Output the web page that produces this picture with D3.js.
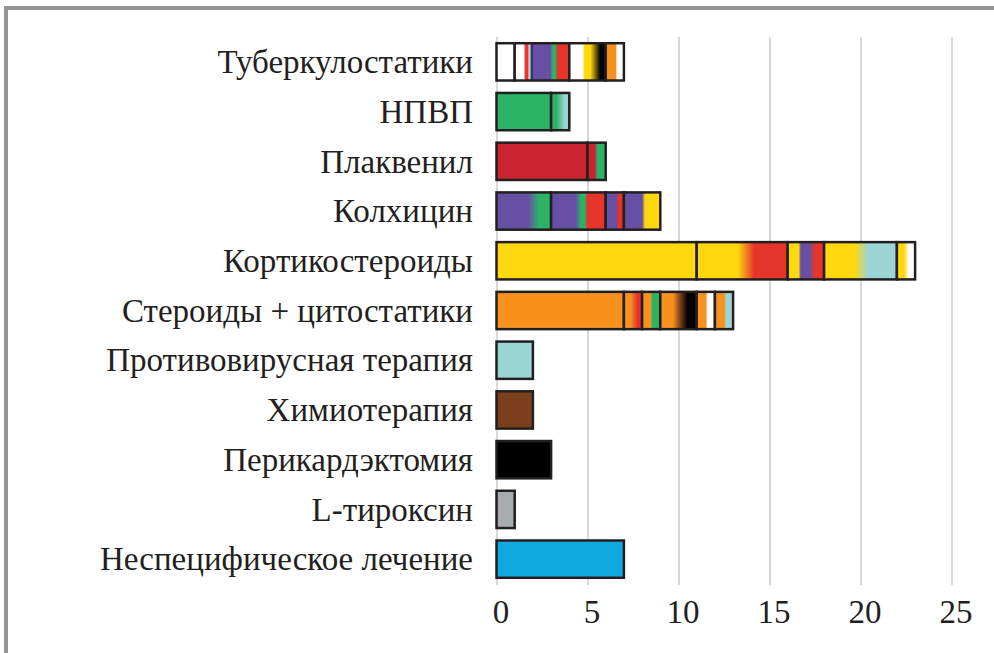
<!DOCTYPE html>
<html>
<head>
<meta charset="utf-8">
<script src="https://cdn.jsdelivr.net/npm/d3@7"></script>
<style>
  body { margin: 0; background: #fff; }
  svg { display: block; }
</style>
</head>
<body>
<div id="chart"></div>
<script>
/* data */
var categories = ["Туберкулостатики", "НПВП", "Плаквенил", "Колхицин", "Кортикостероиды",
	"Стероиды + цитостатики", "Противовирусная терапия", "Химиотерапия", "Перикардэктомия",
	"L-тироксин", "Неспецифическое лечение"];

/* length of every outlined piece of a bar, left to right */
var segmentValues = [
	[1, 3, 2, 1],
	[3, 1],
	[5, 1],
	[3, 3, 1, 2],
	[11, 5, 2, 4, 1],
	[7, 1, 1, 2, 1, 1],
	[2],
	[2],
	[3],
	[1],
	[7]
];

/* what each piece is filled with: [stop, colour name] */
var segmentFills = [
	[[[0, "white"]],
	 [[0, "white"], [0.16, "white"], [0.2, "red"], [0.24, "red"], [0.26, "pink"], [0.28, "lightblue"], [0.31, "navy"], [0.35, "purple"], [0.65, "purple"], [0.7, "green"], [0.75, "green"], [0.78, "red"], [1, "red"]],
	 [[0, "white"], [0.36, "white"], [0.42, "yellow"], [0.58, "yellow"], [0.85, "black"], [1, "black"]],
	 [[0, "orange"], [0.55, "orange"], [0.62, "white"], [1, "white"]]],
	[[[0, "green"]],
	 [[0, "green"], [0.3, "green"], [0.75, "lightblue"], [1, "lightblue"]]],
	[[[0, "crimson"]],
	 [[0, "crimson"], [0.4, "crimson"], [0.55, "green"], [1, "green"]]],
	[[[0, "purple"], [0.58, "purple"], [0.78, "green"], [1, "green"]],
	 [[0, "purple"], [0.45, "purple"], [0.55, "green"], [0.62, "green"], [0.66, "red"], [1, "red"]],
	 [[0, "purple"], [0.6, "purple"], [0.68, "red"], [1, "red"]],
	 [[0, "purple"], [0.5, "purple"], [0.58, "yellow"], [1, "yellow"]]],
	[[[0, "yellow"]],
	 [[0, "yellow"], [0.45, "yellow"], [0.63, "red"], [1, "red"]],
	 [[0, "yellow"], [0.3, "yellow"], [0.36, "purple"], [0.6, "purple"], [0.75, "red"], [1, "red"]],
	 [[0, "yellow"], [0.42, "yellow"], [0.6, "lightblue"], [1, "lightblue"]],
	 [[0, "yellow"], [0.4, "yellow"], [0.65, "white"], [1, "white"]]],
	[[[0, "orange"]],
	 [[0, "orange"], [0.35, "orange"], [0.75, "red"], [1, "red"]],
	 [[0, "orange"], [0.48, "orange"], [0.56, "green"], [1, "green"]],
	 [[0, "orange"], [0.35, "orange"], [0.55, "brown"], [0.75, "black"], [1, "black"]],
	 [[0, "orange"], [0.5, "orange"], [0.6, "white"], [1, "white"]],
	 [[0, "orange"], [0.5, "orange"], [0.62, "lightblue"], [1, "lightblue"]]],
	[[[0, "lightblue"]]],
	[[[0, "brown"]]],
	[[[0, "black"]]],
	[[[0, "gray"]]],
	[[[0, "blue"]]]
];

var xTicks = [0, 5, 10, 15, 20, 25];

var palette = {
	white: "#ffffff", red: "#e5352b", crimson: "#c9242f", pink: "#f4c4c4",
	lightblue: "#9cd5d5", navy: "#1f2a6b", purple: "#6750a3", green: "#2bb466",
	yellow: "#ffd80f", orange: "#f7921e", black: "#000000", brown: "#7b3f1b",
	gray: "#a4acae", blue: "#0fa9de"
};

(function() {
	/* layout */
	var width = 994, height = 653;
	var plotLeft = 496.5, plotRight = 951.5, plotTop = 37, plotBottom = 584;
	var serif = "'Liberation Serif', 'Times New Roman', Tinos, 'DejaVu Serif', serif";

	var svg = d3.select("#chart").append("svg")
		.attr("width", width).attr("height", height);

	/* grey frame, cut by the picture edge on the right and bottom */
	svg.append("rect")
		.attr("x", 6).attr("y", 8)
		.attr("width", 1200).attr("height", 900)
		.attr("fill", "none")
		.attr("stroke", "#959595")
		.attr("stroke-width", 4);

	var x = d3.scaleLinear().domain([0, 25]).range([plotLeft, plotRight]);
	var y = d3.scaleBand().domain(categories).range([plotTop, plotBottom])
		.paddingInner(0.25).paddingOuter(0.125);

	/* grid + tick labels */
	var axis = svg.append("g")
		.attr("transform", "translate(0," + (plotBottom + 1) + ")")
		.call(d3.axisBottom(x).tickValues(xTicks).tickSize(-(plotBottom + 1 - plotTop)).tickPadding(15));
	axis.select(".domain").remove();
	axis.attr("font-family", null).attr("font-size", null);
	axis.selectAll(".tick line").attr("stroke", "#d9d9d9").attr("stroke-width", 2);
	axis.selectAll(".tick text")
		.attr("dx", 4)
		.style("font-family", serif)
		.style("font-size", "33px")
		.attr("fill", "#231f20");

	/* gradients */
	var defs = svg.append("defs");
	var pieces = [];
	categories.forEach(function(c, i) {
		var acc = 0;
		segmentValues[i].forEach(function(v, j) {
			pieces.push({cat: c, x0: acc, x1: acc + v, fill: segmentFills[i][j], id: "g" + i + "_" + j});
			acc += v;
		});
	});

	pieces.forEach(function(p) {
		if (p.fill.length < 2) return;
		var grad = defs.append("linearGradient").attr("id", p.id)
			.attr("x1", 0).attr("x2", 1).attr("y1", 0).attr("y2", 0);
		grad.selectAll("stop").data(p.fill).enter().append("stop")
			.attr("offset", function(s) { return s[0]; })
			.attr("stop-color", function(s) { return palette[s[1]]; });
	});

	/* bars */
	svg.append("g").selectAll("rect")
		.data(pieces)
		.enter().append("rect")
		.attr("x", function(d) { return x(d.x0); })
		.attr("width", function(d) { return x(d.x1) - x(d.x0); })
		.attr("y", function(d) { return y(d.cat); })
		.attr("height", y.bandwidth())
		.attr("fill", function(d) { return d.fill.length < 2 ? palette[d.fill[0][1]] : "url(#" + d.id + ")"; })
		.attr("stroke", "#231f20")
		.attr("stroke-width", 2.5);

	/* category labels */
	svg.append("g").selectAll("text")
		.data(categories)
		.enter().append("text")
		.attr("x", 473)
		.attr("y", function(d) { return y(d) + y.bandwidth() / 2; })
		.attr("dy", "0.34em")
		.attr("text-anchor", "end")
		.style("font-family", serif)
		.style("font-size", "33px")
		.attr("fill", "#231f20")
		.text(function(d) { return d; });
})();
</script>
</body>
</html>
